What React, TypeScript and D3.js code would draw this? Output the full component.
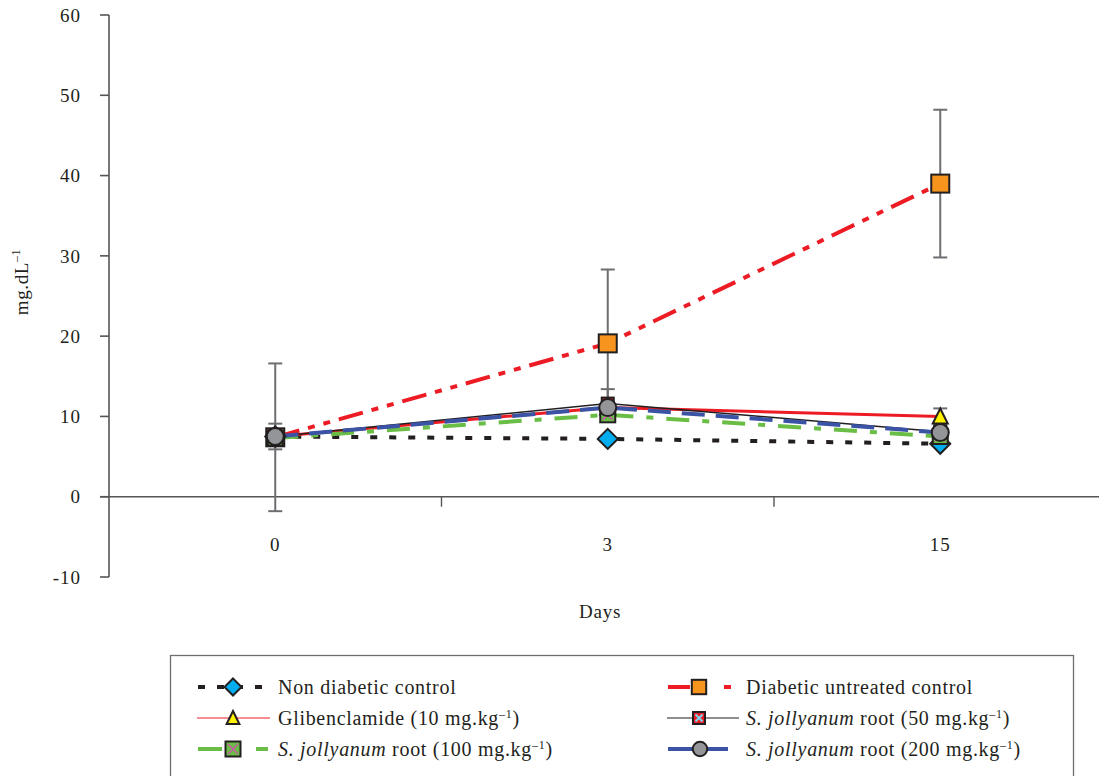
import React from "react";
import * as d3 from "d3";

const days = ["0", "3", "15"];
const yTicks = [-10, 0, 10, 20, 30, 40, 50, 60];

const nonDiabetic = [7.5, 7.2, 6.6];
const diabetic = [7.4, 19.1, 39.0];
const glib = [7.5, 11.1, 10.0];
const sj50 = [7.5, 11.6, 8.1];
const sj100 = [7.3, 10.2, 7.5];
const sj200 = [7.5, 11.1, 8.0];

const nonDiabeticErr = [1.6, 0, 0];
const diabeticErr = [9.2, 9.2, 9.2];
const glibErr = [0, 0, 1.0];
const sj50Err = [0, 1.8, 0];
const sj100Err = [0, 0, 0];
const sj200Err = [0, 0, 0];

const W = 1099;
const H = 776;
const FONT = "'Liberation Serif', 'Times New Roman', serif";

type Marker = "diamond" | "square" | "triangle" | "xsquare" | "gsquare" | "circle";

interface Series {
  name: string;
  values: number[];
  err: number[];
  color: string;
  width: number;
  dash?: string;
  marker: Marker;
}

const series: Series[] = [
  { name: "nd", values: nonDiabetic, err: nonDiabeticErr, color: "#231f20", width: 4, dash: "7,12", marker: "diamond" },
  { name: "du", values: diabetic, err: diabeticErr, color: "#ed1c24", width: 4, dash: "25,9,7,9,7,9", marker: "square" },
  { name: "gl", values: glib, err: glibErr, color: "#ed1c24", width: 3, marker: "triangle" },
  { name: "s50", values: sj50, err: sj50Err, color: "#231f20", width: 1.5, marker: "xsquare" },
  { name: "s100", values: sj100, err: sj100Err, color: "#6abd45", width: 4, dash: "23,13,7,13", marker: "gsquare" },
  { name: "s200", values: sj200, err: sj200Err, color: "#3a53a4", width: 4, dash: "23,11", marker: "circle" },
];

function MarkerShape({ type, x, y, legend = false }: { type: Marker; x: number; y: number; legend?: boolean }) {
  const stroke = "#231f20";
  const sw = 2;
  const k = legend ? 0.85 : 1;
  switch (type) {
    case "diamond": {
      const r = 10 * k;
      return <path d={`M${x},${y - r}L${x + r},${y}L${x},${y + r}L${x - r},${y}Z`} fill="#00aeef" stroke={stroke} strokeWidth={sw} />;
    }
    case "square": {
      const s = 18 * (legend ? 0.8 : 1);
      return <rect x={x - s / 2} y={y - s / 2} width={s} height={s} fill="#f7941d" stroke={stroke} strokeWidth={sw} />;
    }
    case "triangle": {
      const w = 15 * k, h = 14 * k;
      return <path d={`M${x},${y - h / 2 - 1}L${x + w / 2},${y + h / 2}L${x - w / 2},${y + h / 2}Z`} fill="#fff200" stroke={stroke} strokeWidth={sw} />;
    }
    case "xsquare": {
      const s = 12;
      const a = s / 2 - 2.5;
      return (
        <g>
          <rect x={x - s / 2} y={y - s / 2} width={s} height={s} fill="#ed1c24" stroke={stroke} strokeWidth={sw} />
          <path d={`M${x - a},${y - a}L${x + a},${y + a}M${x + a},${y - a}L${x - a},${y + a}`} stroke="#7fd3f0" strokeWidth={2} />
        </g>
      );
    }
    case "gsquare": {
      const s = 15;
      const a = s / 2 - 2.5;
      return (
        <g>
          <rect x={x - s / 2} y={y - s / 2} width={s} height={s} fill="#6abd45" stroke={stroke} strokeWidth={sw} />
          <path d={`M${x - a},${y - a}L${x + a},${y + a}M${x + a},${y - a}L${x - a},${y + a}`} stroke="#c65ba5" strokeWidth={1.6} />
        </g>
      );
    }
    case "circle":
    default:
      return <circle cx={x} cy={y} r={8.5 * k} fill="#939598" stroke={stroke} strokeWidth={sw} />;
  }
}

export default function App() {
  const y = d3.scaleLinear().domain([-10, 60]).range([577, 15]);
  const x = d3.scaleBand<string>().domain(days).range([109, 1106.5]);
  const cx = (d: string) => (x(d) as number) + x.bandwidth() / 2;
  const axisX = 109;
  const axisColor = "#555";

  const line = d3
    .line<number>()
    .x((_, i) => cx(days[i]))
    .y((v) => y(v));

  const legendRows = [
    { col: 0, row: 0, s: series[0] },
    { col: 1, row: 0, s: series[1] },
    { col: 0, row: 1, s: series[2] },
    { col: 1, row: 1, s: series[3] },
    { col: 0, row: 2, s: series[4] },
    { col: 1, row: 2, s: series[5] },
  ];
  const rowY = [687, 718, 749];
  const fs = 20;

  const legendLabel = (name: string) => {
    switch (name) {
      case "nd":
        return <tspan>Non diabetic control</tspan>;
      case "du":
        return <tspan>Diabetic untreated control</tspan>;
      case "gl":
        return (
          <>
            <tspan>Glibenclamide (10 mg.kg</tspan>
            <tspan dy={-7} fontSize={12}>–1</tspan>
            <tspan dy={7}>)</tspan>
          </>
        );
      default: {
        const dose = name === "s50" ? "50" : name === "s100" ? "100" : "200";
        return (
          <>
            <tspan fontStyle="italic">S. jollyanum</tspan>
            <tspan>{` root (${dose} mg.kg`}</tspan>
            <tspan dy={-7} fontSize={12}>–1</tspan>
            <tspan dy={7}>)</tspan>
          </>
        );
      }
    }
  };

  const legendSample = (s: Series, col: number, yy: number) => {
    if (col === 0) {
      const x0 = 198, x1 = 268, mx = 233;
      if (s.name === "nd") {
        return (
          <g>
            <line x1={x0} x2={x1} y1={yy} y2={yy} stroke={s.color} strokeWidth={4} strokeDasharray="7,12" />
            <MarkerShape type={s.marker} x={mx} y={yy} legend />
          </g>
        );
      }
      if (s.name === "gl") {
        return (
          <g>
            <line x1={x0 - 1} x2={x1 + 2} y1={yy} y2={yy} stroke={s.color} strokeWidth={1.2} />
            <MarkerShape type={s.marker} x={mx} y={yy} legend />
          </g>
        );
      }
      return (
        <g>
          <line x1={x0} x2={222} y1={yy} y2={yy} stroke={s.color} strokeWidth={4} />
          <line x1={256} x2={268} y1={yy} y2={yy} stroke={s.color} strokeWidth={4} />
          <MarkerShape type={s.marker} x={mx} y={yy} legend />
        </g>
      );
    }
    const x0 = 668, mx = 699;
    if (s.name === "du") {
      return (
        <g>
          <line x1={x0} x2={690} y1={yy} y2={yy} stroke={s.color} strokeWidth={4} />
          <line x1={724} x2={731} y1={yy} y2={yy} stroke={s.color} strokeWidth={4} />
          <MarkerShape type={s.marker} x={mx} y={yy} legend />
        </g>
      );
    }
    if (s.name === "s50") {
      return (
        <g>
          <line x1={667} x2={739} y1={yy} y2={yy} stroke={s.color} strokeWidth={1.2} />
          <MarkerShape type={s.marker} x={mx} y={yy} legend />
        </g>
      );
    }
    return (
      <g>
        <line x1={x0} x2={728} y1={yy} y2={yy} stroke={s.color} strokeWidth={4} />
        <MarkerShape type={s.marker} x={mx + 1} y={yy} legend />
      </g>
    );
  };

  return (
    <div style={{ position: "absolute", left: 0, top: 0 }}>
      <svg width={W} height={H} style={{ display: "block", background: "#fff" }} fontFamily={FONT}>
        {/* Y axis */}
        <line x1={axisX} x2={axisX} y1={y(60)} y2={y(-10)} stroke={axisColor} strokeWidth={1.6} />
        {yTicks.map((t) => (
          <g key={t}>
            <line x1={axisX - 9} x2={axisX} y1={y(t)} y2={y(t)} stroke={axisColor} strokeWidth={1.6} />
            <text x={81} y={y(t)} dy="0.35em" textAnchor="end" fontSize={19} letterSpacing={1} fill="#231f20">
              {t}
            </text>
          </g>
        ))}
        {/* X axis */}
        <line x1={axisX - 9} x2={W} y1={y(0)} y2={y(0)} stroke={axisColor} strokeWidth={1.6} />
        {days.slice(1).map((d) => (
          <line key={d} x1={x(d) as number} x2={x(d) as number} y1={y(0)} y2={y(0) + 10} stroke={axisColor} strokeWidth={1.4} />
        ))}
        {days.map((d) => (
          <text key={d} x={cx(d)} y={551} textAnchor="middle" fontSize={19} letterSpacing={1} fill="#231f20">
            {d}
          </text>
        ))}
        <text x={600} y={618} textAnchor="middle" fontSize={19} letterSpacing={0.8} fill="#231f20">
          Days
        </text>
        <text transform="translate(28,282) rotate(-90)" textAnchor="middle" fontSize={19} letterSpacing={0.6} fill="#231f20">
          <tspan>mg.dL</tspan>
          <tspan dy={-8} fontSize={12}>–1</tspan>
        </text>

        {/* error bars */}
        {series.map((s) =>
          s.values.map((v, i) =>
            s.err[i] > 0 ? (
              <g key={s.name + i} stroke="#6d6e71" strokeWidth={2}>
                <line x1={cx(days[i])} x2={cx(days[i])} y1={y(v + s.err[i])} y2={y(v - s.err[i])} />
                <line x1={cx(days[i]) - 7} x2={cx(days[i]) + 7} y1={y(v + s.err[i])} y2={y(v + s.err[i])} />
                <line x1={cx(days[i]) - 7} x2={cx(days[i]) + 7} y1={y(v - s.err[i])} y2={y(v - s.err[i])} />
              </g>
            ) : null
          )
        )}

        {/* lines */}
        {series.map((s) => (
          <path key={s.name} d={line(s.values) as string} fill="none" stroke={s.color} strokeWidth={s.width} strokeDasharray={s.dash} />
        ))}

        {/* markers */}
        {series.map((s) => (
          <g key={s.name + "m"}>
            {s.values.map((v, i) => (
              <MarkerShape key={i} type={s.marker} x={cx(days[i])} y={y(v)} />
            ))}
          </g>
        ))}

        {/* legend */}
        <rect x={170.5} y={655.5} width={903} height={140} fill="none" stroke="#6d6e71" strokeWidth={1.3} />
        {legendRows.map(({ col, row, s }) => (
          <g key={s.name + "l"}>
            {legendSample(s, col, rowY[row])}
            <text x={col === 0 ? 278 : 746} y={rowY[row]} dy="0.33em" fontSize={fs} letterSpacing={0.7} fill="#231f20">
              {legendLabel(s.name)}
            </text>
          </g>
        ))}
      </svg>
    </div>
  );
}
